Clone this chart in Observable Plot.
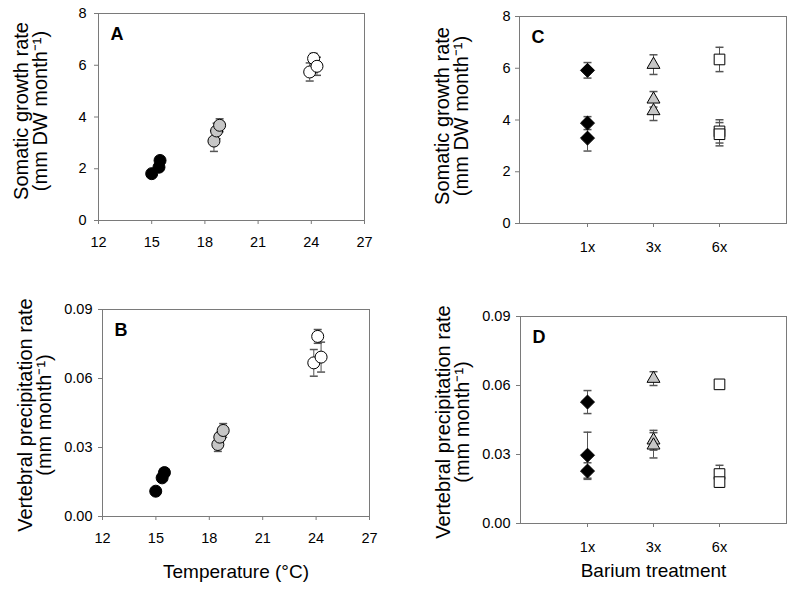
<!DOCTYPE html>
<html><head><meta charset="utf-8">
<script src="https://cdn.jsdelivr.net/npm/d3@7"></script>
<script src="https://cdn.jsdelivr.net/npm/@observablehq/plot@0.6"></script>
<style>
body{margin:0;background:#fff}
#wrap{position:relative;width:796px;height:589px;font-family:"Liberation Sans",Arial,sans-serif}
#wrap svg{position:absolute;overflow:visible}
#wrap g[aria-label="x-axis tick"], #wrap g[aria-label="y-axis tick"]{stroke:#7a7a7a}
</style></head><body><div id="wrap"></div>
<script>
// ---------- Panel A: somatic growth vs temperature ----------
const somaticTemp15 = [15.0, 15.41, 15.47];
const somaticRate15 = [1.81, 2.06, 2.32];
const somaticErr15  = [0.08, 0.08, 0.08];
const somaticTemp18 = [18.51, 18.66, 18.83];
const somaticRate18 = [3.07, 3.46, 3.68];
const somaticErr18  = [0.40, 0.30, 0.25];
const somaticTemp24 = [23.91, 24.13, 24.32];
const somaticRate24 = [5.74, 6.26, 5.96];
const somaticErr24  = [0.35, 0.20, 0.35];

// ---------- Panel B: vertebral precipitation vs temperature ----------
const precipTemp15 = [14.99, 15.35, 15.48];
const precipRate15 = [0.0110, 0.0168, 0.0191];
const precipErr15  = [0.001, 0.001, 0.001];
const precipTemp18 = [18.48, 18.59, 18.78];
const precipRate18 = [0.0313, 0.0345, 0.0374];
const precipErr18  = [0.003, 0.002, 0.003];
const precipTemp24 = [23.87, 24.09, 24.28];
const precipRate24 = [0.0668, 0.0783, 0.0693];
const precipErr24  = [0.0058, 0.003, 0.0065];

// ---------- Panels C, D: barium treatment ----------
const treatments = ["1x", "3x", "6x"];
const somaticBa1 = [5.92, 3.88, 3.30], somaticBaErr1 = [0.30, 0.25, 0.50];
const somaticBa3 = [6.14, 4.80, 4.35], somaticBaErr3 = [0.38, 0.30, 0.37];
const somaticBa6 = [6.34, 3.56, 3.45], somaticBaErr6 = [0.47, 0.45, 0.45];
const precipBa1 = [0.0528, 0.0297, 0.0228], precipBaErr1 = [0.005, 0.010, 0.0036];
const precipBa3 = [0.0630, 0.0362, 0.0340], precipBaErr3 = [0.003, 0.0043, 0.0055];
const precipBa6 = [0.0605, 0.0215, 0.0180], precipBaErr6 = [0.001, 0.0038, 0.0022];

const tempTicks = [12, 15, 18, 21, 24, 27];
const somaticTicks = [0, 2, 4, 6, 8];
const precipTicks = [0, 0.03, 0.06, 0.09];

const somaticTitle = "Somatic growth rate\n(mm DW month\u207B\u00B9)";
const precipTitle = "Vertebral precipitation rate\n(mm month\u207B\u00B9)";

// ---------- helpers ----------
const FONT = '"Liberation Sans", Arial, sans-serif';
const rowsOf = (xs, vs, es, group) => vs.map((v, i) => ({x: Array.isArray(xs) ? xs[i] : xs, v, e: es[i], group}));
const cap = {draw(ctx) { ctx.moveTo(-4, 0); ctx.lineTo(4, 0); }};
const styleOf = {
  g15: {symbol: "circle", fill: "black", r: 6},
  g18: {symbol: "circle", fill: "#c6c6c6", r: 6},
  g24: {symbol: "circle", fill: "white", r: 6},
  b1: {symbol: "diamond2", fill: "black", r: 6.3},
  b3: {symbol: "triangle", fill: "#c6c6c6", r: 4.8},
  b6: {symbol: "square", fill: "white", r: 6}
};

function panel({rows, left, top, width, height, m, x, y, letter, yTitle, yTitleDy, xTitle, xTitleDy, yPad}) {
  const groups = [...new Set(rows.map(d => d.group))];
  const marks = [
    Plot.frame({stroke: "#7a7a7a"}),
    Plot.ruleX(rows, {x: "x", y1: d => d.v - d.e, y2: d => d.v + d.e, stroke: "#555", strokeWidth: 1}),
    Plot.dot(rows, {x: "x", y: d => d.v + d.e, symbol: cap, stroke: "#555", fill: "none"}),
    Plot.dot(rows, {x: "x", y: d => d.v - d.e, symbol: cap, stroke: "#555", fill: "none"}),
    ...groups.map(g => Plot.dot(rows.filter(d => d.group === g), {
      x: "x", y: "v", symbol: styleOf[g].symbol, r: styleOf[g].r,
      fill: styleOf[g].fill, stroke: "black", strokeWidth: 1
    })),
    Plot.text([letter], {text: d => d, frameAnchor: "top-left", dx: 12, dy: 14, fontWeight: "bold", fontSize: 18}),
    Plot.text([yTitle], {text: d => d, frameAnchor: "left", textAnchor: "middle", lineAnchor: "middle",
      rotate: -90, dx: -67, dy: yTitleDy, fontSize: 20, lineHeight: 0.97})
  ];
  if (xTitle) marks.push(Plot.text([xTitle], {text: d => d, frameAnchor: "bottom", lineAnchor: "middle", dy: xTitleDy, fontSize: 19}));
  const svg = Plot.plot({
    width, height,
    marginLeft: m[0], marginRight: m[1], marginTop: m[2], marginBottom: m[3],
    style: {fontFamily: FONT, fontSize: "14.5px", color: "black", background: "transparent", overflow: "visible"},
    x, y: {...y, tickSize: 4, tickPadding: yPad, label: null},
    marks
  });
  svg.style.left = left + "px";
  svg.style.top = top + "px";
  document.getElementById("wrap").appendChild(svg);
}

const xTemp = {domain: [12, 27], ticks: tempTicks, tickSize: 4, tickPadding: 12, label: null};
const xBa = {type: "point", domain: treatments, padding: 1, tickSize: 4, tickPadding: 14, label: null};

panel({
  rows: [...rowsOf(somaticTemp15, somaticRate15, somaticErr15, "g15"),
         ...rowsOf(somaticTemp18, somaticRate18, somaticErr18, "g18"),
         ...rowsOf(somaticTemp24, somaticRate24, somaticErr24, "g24")],
  left: 0, top: 0, width: 398, height: 270, m: [98, 34, 13, 50],
  x: xTemp, y: {domain: [0, 8], ticks: somaticTicks}, yPad: 8,
  letter: "A", yTitle: somaticTitle, yTitleDy: -6
});
panel({
  rows: [...rowsOf(precipTemp15, precipRate15, precipErr15, "g15"),
         ...rowsOf(precipTemp18, precipRate18, precipErr18, "g18"),
         ...rowsOf(precipTemp24, precipRate24, precipErr24, "g24")],
  left: 0, top: 270, width: 398, height: 319, m: [102, 29, 39, 73],
  x: xTemp, y: {domain: [0, 0.09], ticks: precipTicks, tickFormat: ".2f"}, yPad: 6,
  letter: "B", yTitle: precipTitle, yTitleDy: 2, xTitle: "Temperature (\u00B0C)", xTitleDy: 55
});
panel({
  rows: [...rowsOf("1x", somaticBa1, somaticBaErr1, "b1"),
         ...rowsOf("3x", somaticBa3, somaticBaErr3, "b3"),
         ...rowsOf("6x", somaticBa6, somaticBaErr6, "b6")],
  left: 398, top: 0, width: 398, height: 270, m: [121, 10, 16, 47],
  x: xBa, y: {domain: [0, 8], ticks: somaticTicks}, yPad: 5,
  letter: "C", yTitle: somaticTitle, yTitleDy: -4
});
panel({
  rows: [...rowsOf("1x", precipBa1, precipBaErr1, "b1"),
         ...rowsOf("3x", precipBa3, precipBaErr3, "b3"),
         ...rowsOf("6x", precipBa6, precipBaErr6, "b6")],
  left: 398, top: 270, width: 398, height: 319, m: [122, 10, 46, 66],
  x: xBa, y: {domain: [0, 0.09], ticks: precipTicks, tickFormat: ".2f"}, yPad: 6,
  letter: "D", yTitle: precipTitle, yTitleDy: 2, xTitle: "Barium treatment", xTitleDy: 47
});
</script></body></html>
